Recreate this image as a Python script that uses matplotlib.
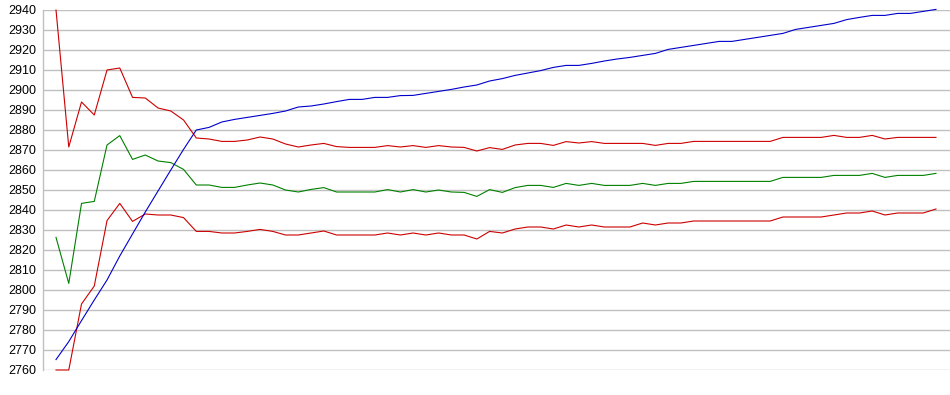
import numpy as np
import matplotlib
matplotlib.use("Agg")
import matplotlib.pyplot as plt

# ---------- data ----------
blue = [2765.2, 2774.2, 2784.7, 2795, 2805, 2817, 2828, 2839, 2849.5, 2860,
        2870.3, 2880, 2881.3, 2884, 2885.3, 2886.3, 2887.3, 2888.3, 2889.5, 2891.5,
        2892, 2893, 2894.2, 2895.3, 2895.3, 2896.3, 2896.3, 2897.2, 2897.3, 2898.3,
        2899.3, 2900.3, 2901.5, 2902.5, 2904.5, 2905.7, 2907.3, 2908.5, 2909.7, 2911.3,
        2912.3, 2912.3, 2913.3, 2914.5, 2915.5, 2916.3, 2917.3, 2918.3, 2920.3, 2921.3,
        2922.3, 2923.3, 2924.3, 2924.3, 2925.3, 2926.3, 2927.3, 2928.3, 2930.3, 2931.3,
        2932.3, 2933.3, 2935.2, 2936.3, 2937.3, 2937.3, 2938.3, 2938.3, 2939.3, 2940.3]
upper = [2940, 2871.5, 2894, 2887.5, 2910, 2911, 2896.3, 2896, 2891, 2889.5,
         2885, 2876, 2875.5, 2874.3, 2874.3, 2875, 2876.5, 2875.5, 2873, 2871.5,
         2872.5, 2873.3, 2871.7, 2871.3, 2871.3, 2871.3, 2872.2, 2871.5, 2872.2, 2871.3,
         2872.2, 2871.5, 2871.3, 2869.5, 2871.2, 2870.3, 2872.5, 2873.3, 2873.3, 2872.3,
         2874.2, 2873.5, 2874.2, 2873.3, 2873.3, 2873.3, 2873.3, 2872.3, 2873.3, 2873.3,
         2874.3, 2874.3, 2874.3, 2874.3, 2874.3, 2874.3, 2874.3, 2876.3, 2876.3, 2876.3,
         2876.3, 2877.3, 2876.3, 2876.3, 2877.3, 2875.5, 2876.3, 2876.3, 2876.3, 2876.3]
middle = [2826.3, 2803.3, 2843.3, 2844.3, 2872.5, 2877.2, 2865.3, 2867.5, 2864.5, 2863.7,
          2860.3, 2852.5, 2852.5, 2851.3, 2851.3, 2852.5, 2853.5, 2852.5, 2850, 2849,
          2850.3, 2851.2, 2849, 2849, 2849, 2849, 2850.2, 2849, 2850.2, 2849,
          2850, 2849, 2848.8, 2846.8, 2850.2, 2848.8, 2851.2, 2852.3, 2852.3, 2851.3,
          2853.3, 2852.3, 2853.3, 2852.3, 2852.3, 2852.3, 2853.3, 2852.3, 2853.3, 2853.3,
          2854.3, 2854.3, 2854.3, 2854.3, 2854.3, 2854.3, 2854.3, 2856.3, 2856.3, 2856.3,
          2856.3, 2857.3, 2857.3, 2857.3, 2858.3, 2856.3, 2857.3, 2857.3, 2857.3, 2858.3]
lower = [2760, 2760, 2793, 2802, 2834.7, 2843.3, 2834.3, 2838, 2837.5, 2837.5,
         2836.2, 2829.3, 2829.3, 2828.5, 2828.5, 2829.3, 2830.3, 2829.3, 2827.5, 2827.5,
         2828.5, 2829.5, 2827.5, 2827.5, 2827.5, 2827.5, 2828.5, 2827.5, 2828.5, 2827.5,
         2828.5, 2827.5, 2827.5, 2825.5, 2829.3, 2828.5, 2830.5, 2831.5, 2831.5, 2830.5,
         2832.5, 2831.5, 2832.5, 2831.5, 2831.5, 2831.5, 2833.5, 2832.5, 2833.5, 2833.5,
         2834.5, 2834.5, 2834.5, 2834.5, 2834.5, 2834.5, 2834.5, 2836.5, 2836.5, 2836.5,
         2836.5, 2837.5, 2838.5, 2838.5, 2839.5, 2837.5, 2838.5, 2838.5, 2838.5, 2840.5]
yticks = list(range(2760, 2941, 10))
x = np.arange(len(blue))

# ---------- figure ----------
fig = plt.figure(figsize=(9.5, 3.95), dpi=100)
ax = fig.add_axes([43 / 950, 1 - 370 / 395, 907 / 950, 360 / 395])

lw = 0.8
ax.plot(x, upper, color="#cc0000", lw=lw, clip_on=False)
ax.plot(x, middle, color="#008000", lw=lw)
ax.plot(x, lower, color="#cc0000", lw=lw, clip_on=False)
ax.plot(x, blue, color="#0000cc", lw=lw, clip_on=False)

ax.set_ylim(2760, 2940)
ax.set_xlim(-1.02, 70.1)
ax.set_yticks(yticks)
ax.set_yticklabels([str(t) for t in yticks], fontfamily="Liberation Sans", fontsize=9)
ax.set_xticks([])
ax.tick_params(axis="y", length=0, pad=5, colors="#000000")
ax.grid(axis="y", color="#c0c0c0", lw=1)
ax.set_axisbelow(True)
for s in ["top", "right", "bottom"]:
    ax.spines[s].set_visible(False)
ax.spines["left"].set_color("#c0c0c0")
ax.spines["left"].set_linewidth(1)

fig.savefig("out.png", dpi=100)
